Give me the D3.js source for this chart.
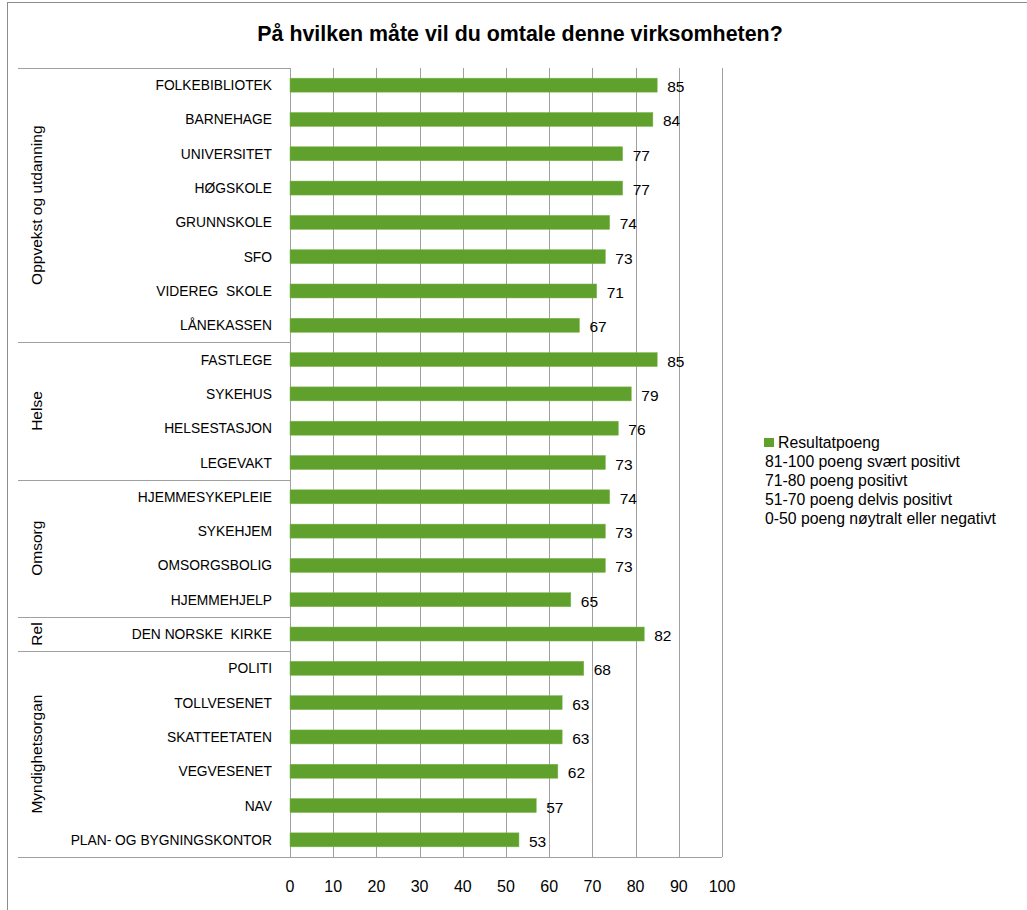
<!DOCTYPE html>
<html><head><meta charset="utf-8">
<script src="https://cdn.jsdelivr.net/npm/d3@7"></script>
<style>body{margin:0;background:#fff}svg{display:block;font-family:"Liberation Sans",Arial,sans-serif}</style>
</head><body><svg id="c" width="1027" height="910"></svg>
<script>
const categories = ["FOLKEBIBLIOTEK","BARNEHAGE","UNIVERSITET","HØGSKOLE","GRUNNSKOLE","SFO","VIDEREG  SKOLE","LÅNEKASSEN",
  "FASTLEGE","SYKEHUS","HELSESTASJON","LEGEVAKT",
  "HJEMMESYKEPLEIE","SYKEHJEM","OMSORGSBOLIG","HJEMMEHJELP",
  "DEN NORSKE  KIRKE",
  "POLITI","TOLLVESENET","SKATTEETATEN","VEGVESENET","NAV","PLAN- OG BYGNINGSKONTOR"];
const values = [85,84,77,77,74,73,71,67, 85,79,76,73, 74,73,73,65, 82, 68,63,63,62,57,53];
const groups = ["Oppvekst og utdanning","Helse","Omsorg","Rel","Myndighetsorgan"];
const groupSizes = [8,4,4,1,6];
const ticks = [0,10,20,30,40,50,60,70,80,90,100];
const legendLines = ["81-100 poeng svært positivt","71-80 poeng positivt","51-70 poeng delvis positivt","0-50 poeng nøytralt eller negativt"];
const title = "På hvilken måte vil du omtale denne virksomheten?";
const seriesName = "Resultatpoeng";

(function(){
const svg = d3.select("#c");
const W=1027,H=910;
const pL=290, pR=722, pT=68, pB=857, catLeft=18;
const green="#5FA12C", grid="#A0A0A0", border="#8C8C8C";

svg.append("rect").attr("x",7.5).attr("y",2.5).attr("width",W+20).attr("height",H+20)
  .attr("fill","none").attr("stroke",border).attr("stroke-width",1);

svg.append("text").attr("x",520).attr("y",41).attr("text-anchor","middle")
  .attr("font-size",21.4).attr("font-weight","bold").attr("fill","#000").text(title);

const x = d3.scaleLinear().domain([0,100]).range([pL,pR]);
const y = d3.scaleBand().domain(categories).range([pT,pB]).paddingInner(0).paddingOuter(0);

svg.append("g").selectAll("line").data(ticks).join("line")
  .attr("x1",d=>Math.round(x(d))+0.5).attr("x2",d=>Math.round(x(d))+0.5)
  .attr("y1",pT).attr("y2",pB).attr("stroke",grid).attr("stroke-width",1);

svg.append("g").selectAll("text").data(ticks).join("text")
  .attr("x",d=>x(d)).attr("y",892).attr("text-anchor","middle")
  .attr("font-size",16).attr("fill","#000").text(d=>d);

let idx=0; const bounds=[0];
groupSizes.forEach(s=>{idx+=s; bounds.push(idx);});
svg.append("g").selectAll("line").data(bounds).join("line")
  .attr("x1",catLeft).attr("x2",d=> (d===categories.length)? pR : pL)
  .attr("y1",d=>Math.round(pT+d*y.step())+0.5).attr("y2",d=>Math.round(pT+d*y.step())+0.5)
  .attr("stroke",grid).attr("stroke-width",1);

svg.append("g").selectAll("text").data(groups).join("text")
  .attr("transform",(g,i)=>{const cy=pT+(bounds[i]+bounds[i+1])/2*y.step(); return `translate(42,${cy}) rotate(-90)`;})
  .attr("text-anchor","middle").attr("font-size",15.5).attr("fill","#000").text(d=>d);

svg.append("g").selectAll("text").data(categories).join("text")
  .attr("x",272).attr("y",d=>y(d)+y.bandwidth()/2+5).attr("text-anchor","end")
  .attr("font-size",13.8).attr("fill","#000").style("white-space","pre").text(d=>d);

const bh=14;
svg.append("g").selectAll("rect").data(values).join("rect")
  .attr("x",x(0)).attr("y",(d,i)=>y(categories[i])+y.bandwidth()/2-bh/2)
  .attr("width",d=>x(d)-x(0)).attr("height",bh).attr("fill",green).attr("stroke","#7DB84E").attr("stroke-width",0.5);

svg.append("g").selectAll("text").data(values).join("text")
  .attr("x",d=>x(d)+10).attr("y",(d,i)=>y(categories[i])+y.bandwidth()/2+7)
  .attr("font-size",15.5).attr("fill","#000").text(d=>d);

const lg=svg.append("g");
lg.append("rect").attr("x",764).attr("y",438).attr("width",10).attr("height",9).attr("fill",green);
lg.append("text").attr("x",778).attr("y",447.5).attr("font-size",15.8).attr("fill","#000").text(seriesName);
lg.selectAll("text.l").data(legendLines).join("text").attr("class","l")
  .attr("x",765).attr("y",(d,i)=>447.5+(i+1)*19.1).attr("font-size",15.8).attr("fill","#000").text(d=>d);
})();
</script></body></html>
